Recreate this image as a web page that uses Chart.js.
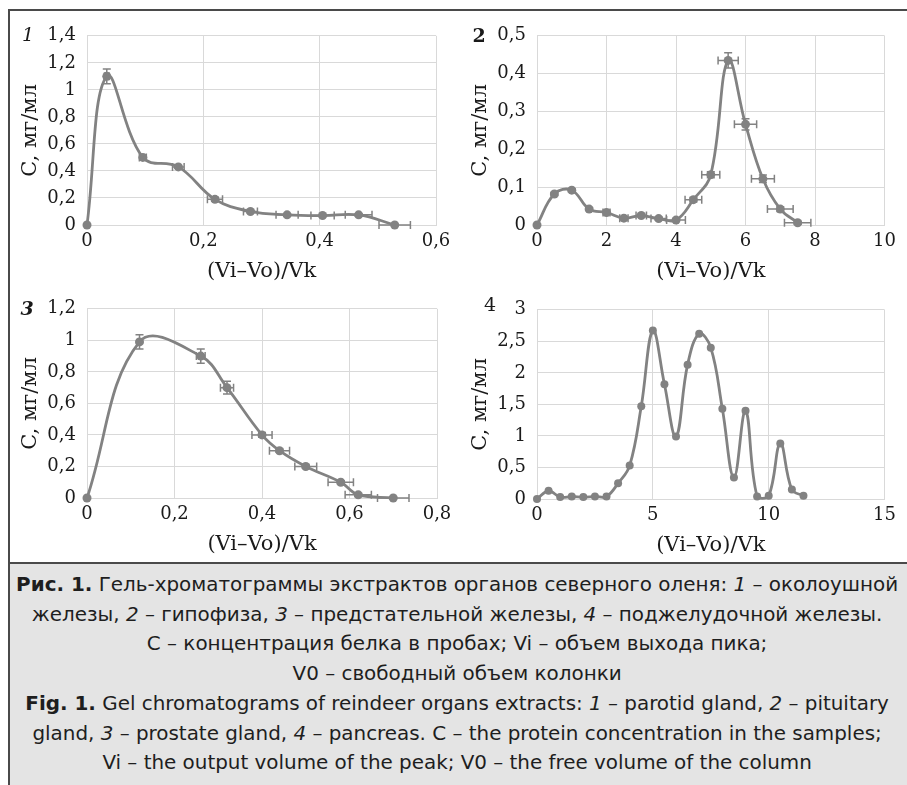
<!DOCTYPE html>
<html>
<head>
<meta charset="utf-8">
<script src="https://cdn.jsdelivr.net/npm/chart.js@4.4.0/dist/chart.umd.min.js"></script>
<style>
  body { margin: 0; background: #fff; }
  #fig { position: relative; width: 907px; height: 785px; overflow: hidden; background: #fff; }
  canvas { position: absolute; }
  .frame { position: absolute; left: 8px; top: 9px; width: 899px; height: 776px;
           border-left: 2px solid #4a4a4a; border-top: 2px solid #4a4a4a; box-sizing: border-box; }
  .sep { position: absolute; left: 8px; top: 562px; width: 899px; height: 2px; background: #4a4a4a; }
  .capbg { position: absolute; left: 10px; top: 564px; width: 897px; height: 221px; background: #e4e4e4; }
  .num { position: absolute; font-family: "DejaVu Serif", serif; font-size: 19px; color: #1a1a1a;
         line-height: 1; transform: translate(-50%, -50%); }
  #caption { position: absolute; left: 10px; top: 570px; width: 894px; text-align: center;
             font-family: "DejaVu Sans Condensed", "DejaVu Sans", sans-serif; font-stretch: condensed;
             font-size: 20px; line-height: 29.7px; color: #1e1e1e; white-space: nowrap;
             transform-origin: 446px 0; }
</style>
</head>
<body>
<div id="fig">
  <div class="frame"></div>
  <div class="capbg"></div>
  <div class="sep"></div>

  <canvas id="c1" width="446" height="272" style="left:12px; top:14px"></canvas>
  <canvas id="c2" width="440" height="272" style="left:462px; top:14px"></canvas>
  <canvas id="c3" width="446" height="272" style="left:12px; top:287px"></canvas>
  <canvas id="c4" width="440" height="272" style="left:462px; top:288px"></canvas>

  <div class="num" style="left:28px; top:34px; font-style:italic">1</div>
  <div class="num" style="left:479px; top:35px; font-weight:bold">2</div>
  <div class="num" style="left:27px; top:308px; font-weight:bold; font-style:italic">3</div>
  <div class="num" style="left:490px; top:304px">4</div>

  <div id="caption">
    <div><span id="ln1"><b>Рис. 1.</b> Гель-хроматограммы экстрактов органов северного оленя: <i>1</i> – околоушной</span></div>
    <div><span>железы, <i>2</i> – гипофиза, <i>3</i> – предстательной железы, <i>4</i> – поджелудочной железы.</span></div>
    <div><span>С – концентрация белка в пробах; Vi – объем выхода пика;</span></div>
    <div><span>V0 – свободный объем колонки</span></div>
    <div><span><b>Fig. 1.</b> Gel chromatograms of reindeer organs extracts: <i>1</i> – parotid gland, <i>2</i> – pituitary</span></div>
    <div><span>gland, <i>3</i> – prostate gland, <i>4</i> – pancreas. C – the protein concentration in the samples;</span></div>
    <div><span>Vi – the output volume of the peak; V0 – the free volume of the column</span></div>
  </div>
</div>

<script>
// Панель 1 — околоушная железа
var p1X = [0, 0.034, 0.096, 0.157, 0.22, 0.281, 0.344, 0.405, 0.467, 0.529];
var p1Y = [0, 1.1, 0.5, 0.43, 0.19, 0.1, 0.075, 0.07, 0.075, 0];
var p1XErr = [0, 0.004, 0.006, 0.01, 0.013, 0.012, 0.019, 0.02, 0.023, 0.027];
var p1YErr = [0, 0.055, 0.015, 0.01, 0.015, 0.01, 0.008, 0.008, 0.008, 0];

// Панель 2 — гипофиз
var p2X = [0, 0.5, 1, 1.5, 2, 2.5, 3, 3.5, 4, 4.5, 5, 5.5, 6, 6.5, 7, 7.5];
var p2Y = [0, 0.082, 0.092, 0.042, 0.033, 0.018, 0.025, 0.017, 0.013, 0.067, 0.133, 0.435, 0.266, 0.122, 0.042, 0.006];
var p2XErr = [0, 0, 0, 0, 0.1, 0.12, 0.15, 0.22, 0.27, 0.24, 0.26, 0.29, 0.32, 0.33, 0.37, 0.38];
var p2YErr = [0, 0.004, 0.004, 0.004, 0.004, 0.004, 0.004, 0.004, 0.004, 0.006, 0.008, 0.02, 0.015, 0.01, 0.006, 0.004];

// Панель 3 — предстательная железа
var p3X = [0, 0.12, 0.26, 0.32, 0.4, 0.44, 0.5, 0.58, 0.62, 0.7];
var p3Y = [0, 0.99, 0.9, 0.7, 0.4, 0.3, 0.2, 0.1, 0.02, 0];
var p3XErr = [0, 0, 0.01, 0.015, 0.023, 0.023, 0.025, 0.029, 0.03, 0.036];
var p3YErr = [0, 0.045, 0.045, 0.04, 0.015, 0.01, 0.01, 0.01, 0.01, 0];

// Панель 4 — поджелудочная железа (без погрешностей)
var p4X = [0, 0.5, 1, 1.5, 2, 2.5, 3, 3.5, 4, 4.5, 5, 5.5, 6, 6.5, 7, 7.5, 8, 8.5, 9, 9.5, 10, 10.5, 11, 11.5];
var p4Y = [0, 0.13, 0.03, 0.04, 0.03, 0.04, 0.04, 0.25, 0.53, 1.47, 2.67, 1.82, 0.99, 2.13, 2.62, 2.4, 1.43, 0.34, 1.4, 0.04, 0.05, 0.88, 0.15, 0.05];

// Оси: [макс, шаг]
var p1XAxis = [0.6, 0.2], p1YAxis = [1.4, 0.2];
var p2XAxis = [10, 2], p2YAxis = [0.5, 0.1];
var p3XAxis = [0.8, 0.2], p3YAxis = [1.2, 0.2];
var p4XAxis = [15, 5], p4YAxis = [3, 0.5];

var xTitle = '(Vi–Vo)/Vk';
var yTitle = 'C, мг/мл';

var GRAY = '#828282';
var GRID = '#d9d9d9';
var INK = '#1a1a1a';

Chart.defaults.animation = false;

function fmt(v) {
  return String(Math.round(v * 100) / 100).replace('.', ',');
}

// Планки погрешностей (по шкалам графика)
var errorBars = {
  id: 'errorBars',
  afterDatasetsDraw: function (chart) {
    var ds = chart.data.datasets[0];
    if (!ds.xErr && !ds.yErr) return;
    var ctx = chart.ctx, sx = chart.scales.x, sy = chart.scales.y;
    ctx.save();
    ctx.strokeStyle = GRAY;
    ctx.lineWidth = 1.5;
    ds.data.forEach(function (p, i) {
      var px = sx.getPixelForValue(p.x), py = sy.getPixelForValue(p.y);
      var ex = ds.xErr ? ds.xErr[i] : 0, ey = ds.yErr ? ds.yErr[i] : 0;
      ctx.beginPath();
      if (ex > 0) {
        var x1 = sx.getPixelForValue(p.x - ex), x2 = sx.getPixelForValue(p.x + ex);
        ctx.moveTo(x1, py); ctx.lineTo(x2, py);
        ctx.moveTo(x1, py - 4); ctx.lineTo(x1, py + 4);
        ctx.moveTo(x2, py - 4); ctx.lineTo(x2, py + 4);
      }
      if (ey > 0) {
        var y1 = sy.getPixelForValue(p.y - ey), y2 = sy.getPixelForValue(p.y + ey);
        ctx.moveTo(px, y1); ctx.lineTo(px, y2);
        ctx.moveTo(px - 4, y1); ctx.lineTo(px + 4, y1);
        ctx.moveTo(px - 4, y2); ctx.lineTo(px + 4, y2);
      }
      ctx.stroke();
    });
    ctx.restore();
  }
};

function makePanel(id, xs, ys, xErr, yErr, xAxis, yAxis, padRight, radius) {
  var pts = xs.map(function (x, i) { return { x: x, y: ys[i] }; });
  return new Chart(document.getElementById(id), {
    type: 'scatter',
    data: {
      datasets: [{
        data: pts,
        xErr: xErr,
        yErr: yErr,
        showLine: true,
        tension: 0.4,
        borderColor: GRAY,
        borderWidth: 2.8,
        pointRadius: radius,
        pointBackgroundColor: GRAY,
        pointBorderWidth: 0,
        clip: false
      }]
    },
    options: {
      responsive: false,
      devicePixelRatio: 1,
      layout: { padding: { top: 19, right: padRight, left: 0, bottom: 0 } },
      plugins: { legend: { display: false }, tooltip: { enabled: false } },
      scales: {
        x: {
          type: 'linear', min: 0, max: xAxis[0],
          ticks: { stepSize: xAxis[1], color: INK, padding: 6, maxRotation: 0,
                   font: { family: 'DejaVu Serif', size: 18 }, callback: fmt },
          grid: { color: GRID, drawTicks: false },
          border: { color: GRID },
          title: { display: true, text: xTitle, color: INK, padding: { top: 0, bottom: 2 },
                   font: { family: 'DejaVu Serif', size: 21 } },
          afterFit: function (s) { s.height = 61; }
        },
        y: {
          type: 'linear', min: 0, max: yAxis[0],
          ticks: { stepSize: yAxis[1], color: INK, padding: 11,
                   font: { family: 'DejaVu Serif', size: 18 }, callback: fmt },
          grid: { color: GRID, drawTicks: false },
          border: { color: GRID },
          title: { display: true, text: yTitle, color: INK, padding: { top: 6, bottom: 0 },
                   font: { family: 'DejaVu Serif', size: 21 } },
          afterFit: function (s) { s.width = 75; }
        }
      }
    },
    plugins: [errorBars]
  });
}

makePanel('c1', p1X, p1Y, p1XErr, p1YErr, p1XAxis, p1YAxis, 22, 4.5);
makePanel('c2', p2X, p2Y, p2XErr, p2YErr, p2XAxis, p2YAxis, 15, 4.5);
makePanel('c3', p3X, p3Y, p3XErr, p3YErr, p3XAxis, p3YAxis, 21, 4.5);
makePanel('c4', p4X, p4Y, null, null, p4XAxis, p4YAxis, 15, 4);

// подпись: подгоняем ширину первой строки под оригинал
var cap = document.getElementById('caption');
var w = document.getElementById('ln1').getBoundingClientRect().width;
cap.style.transform = 'scaleX(' + (882 / w) + ')';
</script>
</body>
</html>
